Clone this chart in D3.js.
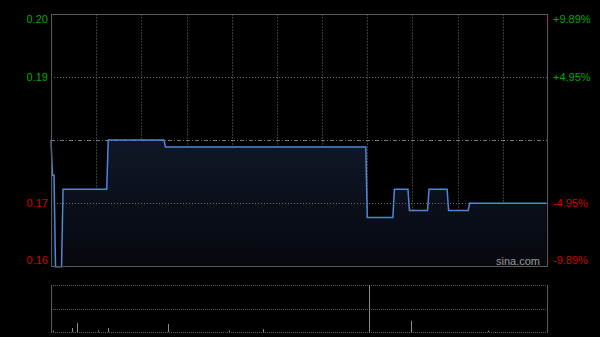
<!DOCTYPE html>
<html>
<head>
<meta charset="utf-8">
<script src="https://d3js.org/d3.v7.min.js"></script>
<style>
html,body{margin:0;padding:0;background:#000;}
svg{display:block;}
text{font-family:"Liberation Sans",Arial,sans-serif;}
</style>
</head>
<body>
<svg id="chart" width="600" height="337"></svg>
<script>
// ---- data ----
const prevClose = 0.181;
const pctTicks = [0.0989, 0.0495, 0, -0.0495, -0.0989];
const pctLabels = ["+9.89%", "+4.95%", "", "-4.95%", "-9.89%"];
const priceLabels = ["0.20", "0.19", "", "0.17", "0.16"];
// minutes since 09:30 (trading minutes, 330 in a day) and price at each vertex
const minutes = [0, 1, 2, 3, 7, 8, 37, 38, 75, 76, 209, 210, 227, 228, 237, 238, 250, 251, 263, 264, 277, 278, 329];
const prices  = [0.181, 0.176, 0.176, 0.163, 0.163, 0.174, 0.174, 0.181, 0.181, 0.180, 0.180, 0.170, 0.170, 0.174, 0.174, 0.171, 0.171, 0.174, 0.174, 0.171, 0.171, 0.172, 0.172];
const volMinutes = [1, 14, 17, 31, 38, 78, 118, 141, 211, 239, 290];
const volumes    = [3, 8.5, 19, 3, 8.5, 17, 3, 6, 100, 24, 3];
const totalMinutes = 330;
const gridMinutes = [30, 60, 90, 120, 150, 180, 210, 240, 270, 300];

// ---- layout ----
const L = 51, R = 548, T = 14, B = 266;
const VT = 285, VB = 332;
const svg = d3.select("#chart");
svg.append("rect").attr("width", 600).attr("height", 337).attr("fill", "#000");

const x = d3.scaleLinear().domain([0, totalMinutes]).range([L, R]);
const y = d3.scaleLinear().domain([prevClose * (1 - 0.0989), prevClose * (1 + 0.0989)]).range([B, T]);
const yv = d3.scaleLinear().domain([0, d3.max(volumes)]).range([VB, VT]);

// gradient
const defs = svg.append("defs");
const grad = defs.append("linearGradient").attr("id", "fillg").attr("x1", 0).attr("y1", 0).attr("x2", 0).attr("y2", 1);
grad.append("stop").attr("offset", "0%").attr("stop-color", "#0f1727");
grad.append("stop").attr("offset", "100%").attr("stop-color", "#06080e");

// vertical grid (main)
svg.append("g").selectAll("line").data(gridMinutes).join("line")
  .attr("x1", d => Math.round(x(d)) + 0.5).attr("x2", d => Math.round(x(d)) + 0.5)
  .attr("y1", T).attr("y2", B)
  .attr("stroke", "#3a3a3a").attr("stroke-width", 1).attr("stroke-dasharray", "2,1");

// area + line
const pts = minutes.map((m, i) => [m, prices[i]]);
svg.append("path").datum(pts)
  .attr("d", d3.area().x(d => x(d[0])).y0(B).y1(d => y(d[1])))
  .attr("fill", "url(#fillg)");

// horizontal grid
const hTicks = pctTicks.map(p => prevClose * (1 + p));
svg.append("g").selectAll("line").data([1, 3]).join("line")
  .attr("x1", L).attr("x2", R)
  .attr("y1", i => Math.round(y(hTicks[i])) + 0.5).attr("y2", i => Math.round(y(hTicks[i])) + 0.5)
  .attr("stroke", "#6a6a6a").attr("stroke-width", 1).attr("stroke-dasharray", "1,2");
// prev close line
svg.append("line")
  .attr("x1", L).attr("x2", R)
  .attr("y1", Math.round(y(prevClose)) + 0.5).attr("y2", Math.round(y(prevClose)) + 0.5)
  .attr("stroke", "#777").attr("stroke-width", 1).attr("stroke-dasharray", "4,2,1,2");

svg.append("path").datum(pts)
  .attr("d", d3.line().x(d => x(d[0])).y(d => y(d[1])))
  .attr("fill", "none").attr("stroke", "#4f86d6").attr("stroke-width", 1.5);

// border
svg.append("rect").attr("x", L + 0.5).attr("y", T + 0.5).attr("width", R - L - 1).attr("height", B - T)
  .attr("fill", "none").attr("stroke", "#5a5a5a").attr("stroke-width", 1);

// labels
const labelY = i => {
  const yy = y(hTicks[i]);
  if (i === 0) return yy + 5;
  if (i === 4) return yy - 6;
  return yy;
};
const colorFor = i => i < 2 ? "#00a800" : "#d00000";
svg.append("g").selectAll("text").data([0, 1, 3, 4]).join("text")
  .attr("x", 48).attr("y", labelY).attr("dy", "0.35em")
  .attr("text-anchor", "end").attr("font-size", 11)
  .attr("fill", colorFor).text(i => priceLabels[i]);
svg.append("g").selectAll("text").data([0, 1, 3, 4]).join("text")
  .attr("x", 553).attr("y", labelY).attr("dy", "0.35em")
  .attr("text-anchor", "start").attr("font-size", 11)
  .attr("fill", colorFor).text(i => pctLabels[i]);

// watermark
svg.append("text").attr("x", 518).attr("y", 265).attr("text-anchor", "middle")
  .attr("font-size", 11).attr("fill", "#9a9a9a").text("sina.com");

// volume panel grid
svg.append("g").selectAll("line").data([VT, (VT + VB) / 2, VB]).join("line")
  .attr("x1", L).attr("x2", R)
  .attr("y1", d => Math.round(d) + 0.5).attr("y2", d => Math.round(d) + 0.5)
  .attr("stroke", "#5a5a5a").attr("stroke-width", 1).attr("stroke-dasharray", "1,1");
svg.append("g").selectAll("line").data([L, R - 1]).join("line")
  .attr("x1", d => d + 0.5).attr("x2", d => d + 0.5)
  .attr("y1", VT).attr("y2", VB + 1)
  .attr("stroke", "#5a5a5a").attr("stroke-width", 1);

// volume bars
svg.append("g").selectAll("line").data(volMinutes.map((m, i) => [m, volumes[i]])).join("line")
  .attr("x1", d => Math.round(x(d[0])) + 0.5).attr("x2", d => Math.round(x(d[0])) + 0.5)
  .attr("y1", VB).attr("y2", d => yv(d[1]))
  .attr("stroke", "#8a8a8a").attr("stroke-width", 1);
</script>
</body>
</html>
